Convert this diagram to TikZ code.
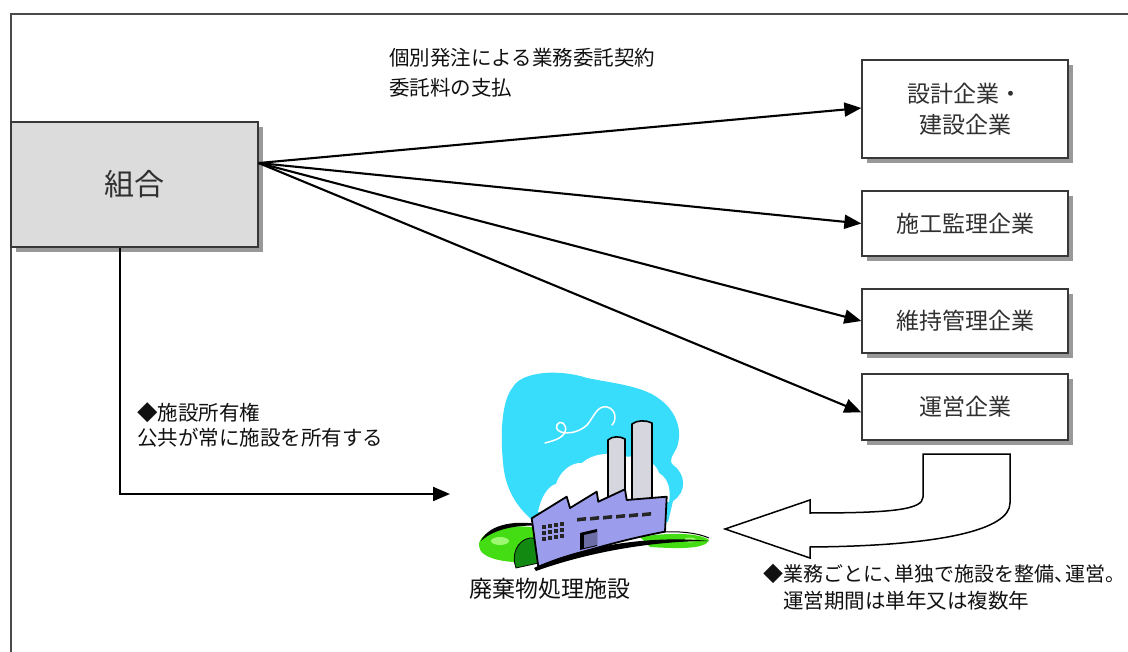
\documentclass[tikz,border=0pt]{standalone}
\usepackage{fontspec}
\setmainfont{Noto Sans CJK JP}
\usetikzlibrary{arrows.meta,shadows,calc}
\definecolor{txt}{HTML}{111111}
\definecolor{boxtxt}{HTML}{303030}
\definecolor{framec}{HTML}{4A4A4A}
\definecolor{boxline}{HTML}{383838}
\definecolor{kfill}{HTML}{DCDCDC}
\definecolor{skyc}{HTML}{38DDFC}
\definecolor{bldgc}{HTML}{9C9CEC}
\definecolor{chimc}{HTML}{D6D6DE}
\definecolor{grassc}{HTML}{44DD14}
\definecolor{grasslt}{HTML}{9CF870}
\definecolor{bushc}{HTML}{128A12}
\newcommand{\narrowpunct}[1]{\makebox[0.55em][l]{#1}}
\tikzset{
  cbox/.style={draw=boxline, line width=1.3pt, fill=white, text=boxtxt,
    minimum width=206pt, inner sep=0pt, font=\fontsize{23}{31}\selectfont,
    drop shadow={shadow xshift=5pt, shadow yshift=-5pt, fill=black!40, opacity=1}},
  kbox/.style={cbox, fill=kfill, minimum width=247pt, minimum height=125pt,
    font=\fontsize{30}{36}\selectfont},
  conn/.style={line width=2.1pt, -{Triangle[length=17pt,width=14pt]}},
  lbl/.style={inner sep=0pt, text=txt, font=\fontsize{20.5}{24}\selectfont},
  lblb/.style={lbl, font=\fontsize{20}{24}\selectfont},
  frameline/.style={draw=framec, line width=1.4pt},
  outl/.style={draw=black, line width=1.6pt, line join=round}
}
\begin{document}
\begin{tikzpicture}[x=1pt,y=-1pt]
\useasboundingbox (0,0) rectangle (1128,652);
\fill[white] (0,0) rectangle (1128,652);
\draw[frameline] (11,660) -- (11,14) -- (1140,14);

% ---------- boxes ----------
\node[kbox] (kumiai) at (134.5,184.5) {\raisebox{3pt}{組合}};
\node[cbox, minimum height=98pt, align=center] (b1) at (965,109) {設計企業・\\建設企業};
\node[cbox, minimum height=65pt] (b2) at (965,223.5) {\raisebox{-1.5pt}{施工監理企業}};
\node[cbox, minimum height=64pt] (b3) at (965,321) {維持管理企業};
\node[cbox, minimum height=66pt] (b4) at (965,407) {運営企業};

% ---------- connectors ----------
\coordinate (kout) at ($(kumiai.north east)!0.33!(kumiai.south east)$);
\coordinate (kbot) at ($(kumiai.south west)!0.441!(kumiai.south east)$);
\coordinate (facin) at (450,494);
\draw[conn] (kout) -- ($(b1.north west)!0.49!(b1.south west)$);
\draw[conn] (kout) -- (b2.west);
\draw[conn] (kout) -- (b3.west);
\draw[conn] (kout) -- ($(b4.north west)!0.58!(b4.south west)$);
\draw[conn] (kbot) |- (facin);

% ---------- labels ----------
\node[lbl, anchor=west] (t1) at (389,58) {個別発注による業務委託契約};
\node[lbl, anchor=west] (t2) at (389,88) {委託料の支払};
\node[lbl, anchor=west] (t3) at (137,413) {◆施設所有権};
\node[lbl, anchor=west] (t4) at (137,438) {公共が常に施設を所有する};
\node[lblb, anchor=west] (t5) at (763,574) {◆業務ごとに\narrowpunct{、}単独で施設を整備\narrowpunct{、}運営\makebox[0.3em][l]{。}};
\node[lbl, anchor=west] (t6) at (783,601) {運営期間は単年又は複数年};
\node[lbl, font=\fontsize{23}{26}\selectfont] (flabel) at (550,589) {廃棄物処理施設};

% ---------- bent block arrow ----------
\filldraw[fill=white, draw=black, line width=1.5pt, line join=miter]
  (923,454) -- (1010,454) -- (1010,503)
  .. controls (1010,530) and (940,546) .. (810,547)
  -- (810,558) -- (725,529) -- (810,500) -- (810,513)
  .. controls (890,513) and (923,510) .. (923,497) -- cycle;

% ---------- factory clip art ----------
% sky blob
\fill[skyc] (513,387) .. controls (522,371) and (560,369) .. (587,378)
  .. controls (612,383) and (642,386) .. (658,398)
  .. controls (676,410) and (683,430) .. (677,447)
  .. controls (673,456) and (668,460) .. (673,465)
  .. controls (686,474) and (687,492) .. (673,501)
  -- (668,522) -- (540,526)
  .. controls (520,512) and (505,492) .. (503,462)
  .. controls (500,432) and (502,400) .. (513,387) -- cycle;
% white cloud
\fill[white] (538,512) .. controls (541,497) and (548,486) .. (556,484)
  .. controls (560,471) and (572,462) .. (582,463)
  .. controls (591,454) and (611,451) .. (623,457)
  .. controls (641,455) and (656,462) .. (659,473)
  .. controls (669,479) and (671,491) .. (669,502) -- cycle;
% squiggle
\draw[white, line width=1.5pt, line cap=round]
  (545,443) .. controls (552,441) and (562,439) .. (565,432)
  .. controls (568,424) and (560,419) .. (557,425)
  .. controls (553,434) and (574,437) .. (587,425)
  .. controls (594,417) and (597,405) .. (607,407)
  .. controls (616,409) and (617,420) .. (612,425);
% chimneys
\filldraw[fill=chimc, outl] (608,440) -- (608,500) -- (625,500) -- (625,439)
  .. controls (620,436) and (612,436) .. (608,440) -- cycle;
\filldraw[fill=chimc, outl] (632,424) -- (632,500) -- (652,500) -- (652,423)
  .. controls (646,420) and (637,420) .. (632,424) -- cycle;
% grass
\fill[grassc] (479,546) .. controls (478,530) and (510,523) .. (537,528)
  -- (541,562) .. controls (510,564) and (480,560) .. (479,546) -- cycle;
\fill[grasslt] (500,541) ellipse [x radius=9, y radius=4];
\fill[grassc] (640,537) .. controls (670,532) and (700,533) .. (709,540)
  .. controls (706,549) and (680,549) .. (650,547) -- cycle;
\fill[grasslt] (690,540) ellipse [x radius=6, y radius=2.5];
\fill[black] (481,541) .. controls (489,523) and (520,519) .. (546,526)
  .. controls (520,524) and (495,528) .. (481,541) -- cycle;
% bush
\filldraw[fill=bushc, draw=black, line width=0.8pt]
  (516,568) .. controls (511,555) and (517,540) .. (530,538)
  .. controls (538,537) and (543,546) .. (543,562) -- cycle;
% building
\filldraw[fill=bldgc, draw=black, line width=1.8pt, line join=round]
  (531.7,518.3) -- (566.7,496.7) -- (570,508) -- (596.7,491.7) -- (598.3,501.7)
  -- (625,489.3) -- (626.7,500) -- (666.7,496.7) -- (665,531.7)
  .. controls (620,540) and (570,555) .. (538.3,566.7) -- cycle;
% grid windows
\foreach \c in {0,1,2,3}{
  \foreach \r in {0,1,2}{
    \fill[black!85] ($(542,525)+(\c*6,\r*6-\c*1)$) rectangle ++(4,3.8);
  }
}
% dash windows
\foreach \i in {0,...,5}{
  \fill[black!85] ($(577,518)+(\i*13,-\i*1)$) -- ++(9,-1) -- ++(0,3.6) -- ++(-9,1) -- cycle;
}
% door
\fill[black] (580,533) -- (597,529) -- (597,546) -- (580,550) -- cycle;
\fill[bldgc!70!black] (584,535) -- (597,532) -- (597,545) -- (584,548) -- cycle;
% swoosh under building
\fill[black] (534,568) .. controls (580,546) and (650,535) .. (709,541)
  .. controls (650,541) and (586,553) .. (536,571) -- cycle;
\draw[black, line width=1pt] (662,532) .. controls (680,531) and (698,533) .. (709,538);
\end{tikzpicture}
\end{document}
